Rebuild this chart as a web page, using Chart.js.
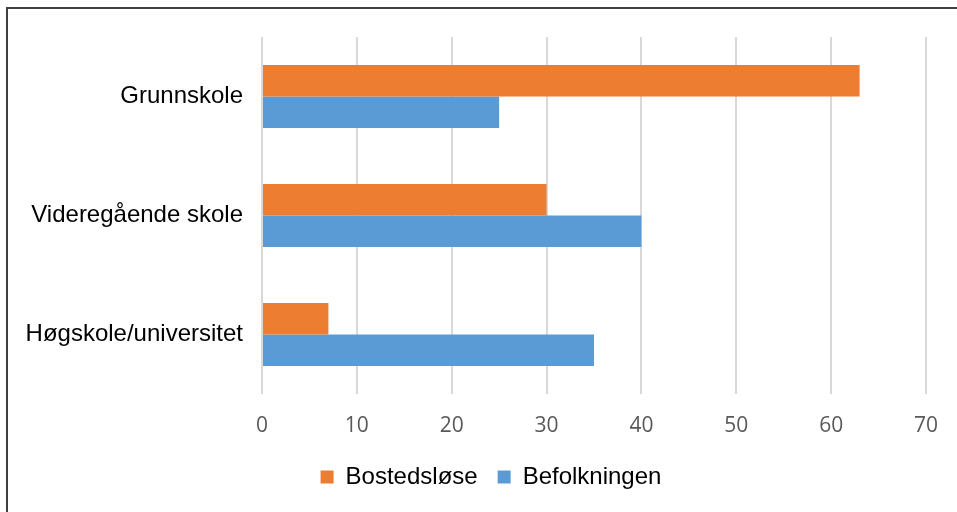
<!DOCTYPE html>
<html>
<head>
<meta charset="utf-8">
<script src="https://cdn.jsdelivr.net/npm/chart.js@4/dist/chart.umd.min.js"></script>
<style>
    html, body {margin: 0; padding: 0; background: #fff; overflow: hidden;}
    .frame {
        position: absolute;
        left: 6px;
        top: 7px;
        width: 951px;
        height: 505px;
        border-left: 2px solid #404040;
        border-top: 2px solid #404040;
        box-sizing: border-box;
    }
    .frame canvas {display: block;}
</style>
</head>
<body>
<div class="frame">
    <canvas id="educationChart" width="949" height="503"></canvas>
</div>
<script>
    const categories = ["Grunnskole", "Videregående skole", "Høgskole/universitet"];
    const seriesNames = ["Bostedsløse", "Befolkningen"];
    const bostedsloseValues = [63, 30, 7];
    const befolkningenValues = [25, 40, 35];
    const xTicks = [0, 10, 20, 30, 40, 50, 60, 70];

    // the legend sits a bit right of the canvas centre in the original
    const shiftLegend = {
        id: 'shiftLegend',
        afterLayout(chart) {
            if (chart.legend) {
                chart.legend.left += 24;
                chart.legend.right += 24;
            }
        }
    };

    let ctx = document.getElementById("educationChart");
    new Chart(ctx, {
        type: 'bar',
        data: {
            labels: categories,
            datasets: [
                {
                    label: seriesNames[0],
                    data: bostedsloseValues,
                    backgroundColor: "#ED7D31",
                    categoryPercentage: 0.53,
                    barPercentage: 1.0
                },
                {
                    label: seriesNames[1],
                    data: befolkningenValues,
                    backgroundColor: "#5B9BD5",
                    categoryPercentage: 0.53,
                    barPercentage: 1.0
                }
            ]
        },
        options: {
            indexAxis: 'y',
            responsive: false,
            animation: false,
            layout: {
                padding: {left: 0, right: 31, top: 28, bottom: 13}
            },
            scales: {
                x: {
                    min: xTicks[0],
                    max: xTicks[xTicks.length - 1],
                    afterBuildTicks: (scale) => {
                        scale.ticks = xTicks.map(v => ({value: v}));
                    },
                    afterFit: (scale) => {
                        scale.height = 51;
                        scale.paddingLeft = 0;
                        scale.paddingRight = 0;
                    },
                    border: {display: false},
                    grid: {
                        color: '#d9d9d9',
                        lineWidth: 2,
                        drawTicks: false
                    },
                    ticks: {
                        padding: 19,
                        color: '#595959',
                        font: {family: "'Open Sans', sans-serif", size: 21}
                    }
                },
                y: {
                    afterFit: (scale) => {
                        scale.width = 254;
                        scale.paddingTop = 0;
                        scale.paddingBottom = 0;
                    },
                    border: {display: false},
                    grid: {display: false, drawTicks: false},
                    ticks: {
                        padding: 19,
                        color: '#000000',
                        font: {family: "'Liberation Sans', Arial, sans-serif", size: 24}
                    }
                }
            },
            plugins: {
                legend: {
                    display: true,
                    position: 'bottom',
                    labels: {
                        boxWidth: 13,
                        boxHeight: 13,
                        padding: 20,
                        color: '#000000',
                        font: {family: "'Liberation Sans', Arial, sans-serif", size: 24}
                    }
                },
                title: {display: false},
                tooltip: {enabled: false}
            }
        },
        plugins: [shiftLegend]
    });
</script>
</body>
</html>
